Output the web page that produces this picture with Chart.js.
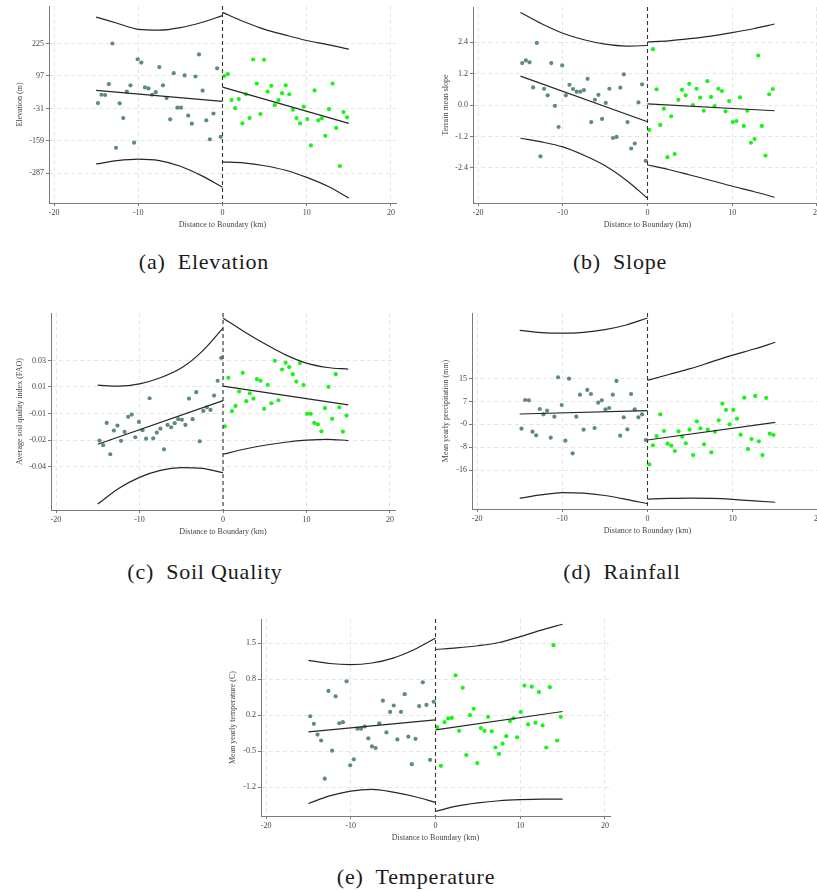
<!doctype html>
<html lang="en">
<head>
<meta charset="UTF-8" />
<title>Boundary discontinuity plots</title>
<script src="https://cdn.jsdelivr.net/npm/chart.js"></script>
<style>
  html, body { margin: 0; padding: 0; background: #fff; }
  body { width: 817px; height: 892px; overflow: hidden; position: relative; }
  canvas { position: absolute; }
  .cap {
    position: absolute; width: 300px; text-align: center;
    font-family: "Liberation Serif", "Times New Roman", serif; font-size: 22px; line-height: 22px;
    letter-spacing: 0.8px; color: #1a1a1a; white-space: nowrap;
  }
  .cap span { display: inline-block; width: 12px; }
</style>
</head>
<body>
<div class="cap" style="left:54px;top:251px">(a)<span></span>Elevation</div>
<div class="cap" style="left:470px;top:251px">(b)<span></span>Slope</div>
<div class="cap" style="left:55px;top:561px">(c)<span></span>Soil Quality</div>
<div class="cap" style="left:472px;top:561px">(d)<span></span>Rainfall</div>
<div class="cap" style="left:266px;top:866px">(e)<span></span>Temperature</div>

<script>
// bins (km from boundary)
const xTicks = [-20, -10, 0, 10, 20];
const binsLeft = [-14.79, -14.36, -13.93, -13.5, -13.07, -12.64, -12.21, -11.79, -11.36, -10.93,
  -10.5, -10.07, -9.64, -9.21, -8.79, -8.36, -7.93, -7.5, -7.07, -6.64, -6.21, -5.79, -5.36,
  -4.93, -4.5, -4.07, -3.64, -3.21, -2.79, -2.36, -1.93, -1.5, -1.07, -0.64, -0.21];
const binsRight = [0.21, 0.64, 1.07, 1.5, 1.93, 2.36, 2.79, 3.21, 3.64, 4.07, 4.5, 4.93, 5.36,
  5.79, 6.21, 6.64, 7.07, 7.5, 7.93, 8.36, 8.79, 9.21, 9.64, 10.07, 10.5, 10.93, 11.36, 11.79,
  12.21, 12.64, 13.07, 13.5, 13.93, 14.36, 14.79];
const fitLeftX = [-15, 0];
const fitRightX = [0, 15];
const ciLeftX = [-15, -12.5, -10, -7.5, -5, -2.5, 0];
const ciRightX = [0, 2.5, 5, 7.5, 10, 12.5, 15];

// (a) elevation
const elevRange = [-404, 373];
const elevTicks = [225, 97, -31, -159, -287];
const elevTickLabels = ["225", "97", "-31", "-159", "-287"];
const elevLeft = [-10, 23, 22, 65, 225, -186, -11, -69, 35, 60, -166, 163, 150, 52, 48, 23, 33,
  132, 60, 10, -74, 108, -28, -28, 99, -59, -91, 95, 182, 39, -78, -153, -51, 127, -143];
const elevRight = [97, 104, 2, -30, 6, -90, 25, -69, 162, 67, -53, 161, 35, 58, -18, 2, 29, 60,
  25, -36, -69, -90, -24, -73, -177, 40, -78, -70, -139, -34, 67, -108, -258, -45, -66];
const elevFitL = [40, -3];
const elevFitR = [53, -90];
const elevUpL = [329, 305, 281, 278, 288, 308, 335];
const elevLoL = [-250, -237, -231, -237, -259, -296, -342];
const elevUpR = [348, 312, 281, 258, 237, 221, 203];
const elevLoR = [-242, -246, -257, -275, -303, -338, -384];

// (b) slope
const slopeRange = [-3.74, 3.74];
const slopeTicks = [2.4, 1.2, 0, -1.2, -2.4];
const slopeTickLabels = ["2.4", "1.2", "0.0", "-1.2", "-2.4"];
const slopeLeft = [1.6, 1.7, 1.63, 0.67, 2.37, -1.96, 0.62, 0.37, 1.6, -0.03, -0.84, 1.51, 0.37,
  0.77, 0.61, 0.51, 0.51, 0.57, 1.0, -0.65, 0.2, 0.39, -0.53, 0.08, 0.62, -1.26, -1.22, 0.66,
  1.17, -0.65, -1.66, -1.47, 0.1, 0.79, -2.13];
const slopeRight = [-0.95, 2.13, 0.6, -0.76, -0.14, -1.99, -0.43, -1.87, 0.2, 0.58, 0.37, 0.81,
  0.0, 0.62, 0.28, -0.22, 0.91, 0.31, -0.04, 0.62, 0.53, -0.24, 0.15, -0.65, -0.61, 0.29, -0.8,
  -0.22, -1.44, -1.3, 1.89, -0.8, -1.93, 0.41, 0.61];
const slopeFitL = [1.1, -0.64];
const slopeFitR = [0.04, -0.22];
const slopeUpL = [3.53, 3.1, 2.74, 2.49, 2.32, 2.25, 2.27];
const slopeLoL = [-1.27, -1.41, -1.6, -1.92, -2.32, -2.87, -3.56];
const slopeUpR = [2.41, 2.45, 2.53, 2.63, 2.76, 2.91, 3.09];
const slopeLoR = [-2.29, -2.46, -2.67, -2.88, -3.1, -3.3, -3.52];

// (c) soil quality
const soilRange = [-0.0688, 0.0574];
const soilTicks = [0.027, 0.010, -0.007, -0.024, -0.041];
const soilTickLabels = ["0.03", "0.01", "-0.01", "-0.02", "-0.04"];
const soilLeft = [-0.0243, -0.0273, -0.013, -0.0331, -0.0179, -0.0147, -0.0245, -0.0188, -0.0091,
  -0.0077, -0.0222, -0.0124, -0.0177, -0.0231, 0.0028, -0.0229, -0.0192, -0.0167, -0.0299,
  -0.0143, -0.0158, -0.0132, -0.0106, -0.011, -0.0143, 0.0026, -0.0106, 0.0067, -0.0248,
  -0.0053, -0.003, -0.0047, 0.0045, 0.014, 0.0287];
const soilRight = [-0.0152, 0.0159, -0.0055, -0.0021, 0.0071, 0.0191, 0.0009, 0.006, 0.0026,
  0.015, 0.014, -0.004, 0.0114, -0.0004, 0.0268, 0.0015, 0.0212, 0.0255, 0.0227, 0.0182, 0.0135,
  0.0253, 0.0112, -0.0072, -0.0072, -0.013, -0.0139, -0.0184, -0.0036, 0.0101, -0.0104, 0.0182,
  -0.003, -0.0186, -0.0083];
const soilFitL = [-0.0267, 0.0013];
const soilFitR = [0.0105, -0.0015];
const soilUpL = [0.0112, 0.0105, 0.012, 0.0159, 0.0221, 0.0328, 0.0477];
const soilLoL = [-0.065, -0.055, -0.0479, -0.0434, -0.0417, -0.0421, -0.0449];
const soilUpR = [0.0542, 0.0456, 0.0377, 0.0306, 0.0253, 0.0225, 0.0214];
const soilLoR = [-0.0331, -0.0299, -0.0273, -0.0254, -0.0241, -0.0235, -0.0243];

// (d) rainfall
const rainRange = [-29.3, 37.6];
const rainTicks = [15.2, 7.4, -0.4, -8.2, -16.0];
const rainTickLabels = ["15", "7", "-0", "-8", "-16"];
const rainLeft = [-1.88, 7.91, 7.8, -2.9, -4.16, 4.84, 3.02, 4.27, -4.95, 2.22, 15.66, 6.2, -5.98,
  15.2, -10.3, 2.22, 9.73, -2.22, 11.33, 9.96, -1.65, 7.0, 7.8, 4.72, 5.18, 9.73, 14.4, -4.27,
  2.0, -2.11, 9.96, 4.72, 2.0, 3.02, -5.75];
const rainRight = [-14.06, -7.57, -4.39, 3.02, -2.68, -7.0, -7.69, -9.51, -2.79, -4.61, -6.89,
  -2.22, -10.88, 0.62, -1.77, -7.23, -2.22, -9.97, -2.9, 0.97, 6.66, 4.5, -0.4, 4.5, 1.54, -3.93,
  8.71, -8.83, -5.41, 9.28, -6.21, -10.88, 8.6, -3.59, -4.04];
const rainFitL = [3.13, 4.27];
const rainFitR = [-5.75, 0.28];
const rainUpL = [31.7, 30.9, 30.7, 31.0, 31.9, 33.5, 35.9];
const rainLoL = [-25.6, -24.5, -23.7, -23.9, -24.7, -26.0, -27.5];
const rainUpR = [14.6, 16.6, 18.6, 20.9, 23.2, 25.3, 27.6];
const rainLoR = [-25.9, -25.7, -25.6, -25.7, -26.0, -26.5, -27.0];

// (e) temperature
const tempRange = [-1.713, 1.947];
const tempTicks = [1.5, 0.83, 0.16, -0.51, -1.18];
const tempTickLabels = ["1.5", "0.8", "0.2", "-0.5", "-1.2"];
const tempLeft = [0.14, 0.0, -0.2, -0.31, -1.02, 0.61, -0.5, 0.51, 0.01, 0.03, 0.79, -0.77, -0.66,
  -0.09, -0.09, -0.05, -0.27, -0.42, -0.45, 0.01, 0.43, -0.16, 0.22, 0.34, -0.29, 0.22, 0.55,
  -0.24, -0.75, -0.28, 0.33, 0.77, 0.35, -0.67, 0.41];
const tempRight = [-0.06, -0.78, 0.03, 0.1, 0.11, 0.9, -0.13, 0.67, -0.58, 0.16, 0.28, -0.73,
  -0.08, -0.13, 0.13, -0.14, -0.44, -0.56, -0.37, -0.23, 0.05, 0.1, -0.25, 0.22, 0.71, -0.01,
  0.69, 0.02, 0.59, -0.03, -0.44, 0.68, 1.46, -0.31, 0.13];
const tempFitL = [-0.15, 0.073];
const tempFitR = [-0.113, 0.228];
const tempUpL = [1.18, 1.12, 1.10, 1.13, 1.22, 1.38, 1.59];
const tempLoL = [-1.48, -1.34, -1.25, -1.22, -1.27, -1.35, -1.46];
const tempUpR = [1.38, 1.41, 1.45, 1.51, 1.62, 1.74, 1.85];
const tempLoR = [-1.63, -1.53, -1.47, -1.43, -1.41, -1.40, -1.40];

const xTitle = "Distance to Boundary (km)";

// plot-area boxes on the page: [left, top, right, bottom]
const panels = [
  { box: [49, 6, 396, 203.3], tOff: 29, title: "Elevation (m)", range: elevRange,
    ticks: elevTicks, labels: elevTickLabels, left: elevLeft, right: elevRight,
    fitL: elevFitL, fitR: elevFitR, upL: elevUpL, loL: elevLoL, upR: elevUpR, loR: elevLoR },
  { box: [473.3, 6.7, 822.7, 203], tOff: 27, title: "Terrain mean slope", range: slopeRange,
    ticks: slopeTicks, labels: slopeTickLabels, left: slopeLeft, right: slopeRight,
    fitL: slopeFitL, fitR: slopeFitR, upL: slopeUpL, loL: slopeLoL, upR: slopeUpR, loR: slopeLoR },
  { box: [51.3, 313.3, 395.3, 510], tOff: 30.6, title: "Average soil quality index (FAO)", range: soilRange,
    ticks: soilTicks, labels: soilTickLabels, left: soilLeft, right: soilRight,
    fitL: soilFitL, fitR: soilFitR, upL: soilUpL, loL: soilLoL, upR: soilUpR, loR: soilLoR },
  { box: [471.7, 313.3, 822.3, 509.3], tOff: 26.4, title: "Mean yearly precipitation (mm)", range: rainRange,
    ticks: rainTicks, labels: rainTickLabels, left: rainLeft, right: rainRight,
    fitL: rainFitL, fitR: rainFitR, upL: rainUpL, loL: rainLoL, upR: rainUpR, loR: rainLoR },
  { box: [260.7, 619.3, 609.9, 816], tOff: 28, title: "Mean yearly temperature (C)", range: tempRange,
    ticks: tempTicks, labels: tempTickLabels, left: tempLeft, right: tempRight,
    fitL: tempFitL, fitR: tempFitR, upL: tempUpL, loL: tempLoL, upR: tempUpR, loR: tempLoR }
];

const FONT = { family: "'Liberation Serif', 'Times New Roman', serif", size: 8, lineHeight: 1.2 };
const TXT = "#444";
const AXIS = "#7a7a7a";

// dashed boundary line at x = 0
const zeroLine = {
  id: "zeroLine",
  afterDatasetsDraw(chart) {
    const { ctx, chartArea, scales } = chart;
    const px = scales.x.getPixelForValue(0);
    ctx.save();
    ctx.strokeStyle = "#333";
    ctx.lineWidth = 1.1;
    ctx.setLineDash([4, 3]);
    ctx.beginPath();
    ctx.moveTo(px, chartArea.top);
    ctx.lineTo(px, chartArea.bottom);
    ctx.stroke();
    ctx.restore();
  }
};

function pts(xs, ys) {
  return xs.map((x, i) => ({ x: x, y: ys[i] }));
}

function lineSet(xs, ys, curved) {
  return {
    data: pts(xs, ys), showLine: true, borderColor: "#262626", borderWidth: 1.2,
    pointRadius: 0, fill: false, cubicInterpolationMode: curved ? "monotone" : "default"
  };
}

function dotSet(xs, ys, color) {
  return { data: pts(xs, ys), backgroundColor: color, borderWidth: 0, pointRadius: 2.1 };
}

panels.forEach((p) => {
  const [L, T, R, B] = p.box;
  const cv = document.createElement("canvas");
  cv.width = Math.round(R - L + 80);
  cv.height = Math.round(B - T + 45);
  cv.style.left = (L - 60) + "px";
  cv.style.top = (T - 10) + "px";
  document.body.appendChild(cv);

  new Chart(cv.getContext("2d"), {
    type: "scatter",
    data: {
      datasets: [
        lineSet(fitLeftX, p.fitL, false),
        lineSet(fitRightX, p.fitR, false),
        lineSet(ciLeftX, p.upL, true),
        lineSet(ciLeftX, p.loL, true),
        lineSet(ciRightX, p.upR, true),
        lineSet(ciRightX, p.loR, true),
        dotSet(binsLeft, p.left, "#5f8a7f"),
        dotSet(binsRight, p.right, "#18f418")
      ]
    },
    options: {
      responsive: false,
      animation: false,
      layout: { padding: { top: 10, right: 20, left: 0, bottom: 0 } },
      plugins: { legend: { display: false }, tooltip: { enabled: false } },
      scales: {
        x: {
          type: "linear", min: -20.6, max: 20.6,
          afterBuildTicks: (s) => { s.ticks = xTicks.map((v) => ({ value: v })); },
          afterFit: (s) => { s.height = 35; },
          ticks: { font: FONT, color: TXT, padding: 2, maxRotation: 0, autoSkip: false },
          grid: { color: "#e6e6e6", lineWidth: 1, tickColor: AXIS, tickLength: 3, tickBorderDash: [] },
          border: { color: AXIS, width: 1, dash: [4, 3] },
          title: { display: true, text: xTitle, font: FONT, color: TXT, padding: { top: 0, bottom: 8.7 } }
        },
        y: {
          type: "linear", position: "left", min: p.range[0], max: p.range[1],
          afterBuildTicks: (s) => { s.ticks = p.ticks.map((v) => ({ value: v })); },
          afterFit: (s) => { s.width = 60; },
          ticks: { font: FONT, color: TXT, padding: 2, autoSkip: false, callback: (v, i) => p.labels[i] },
          grid: { color: "#e6e6e6", lineWidth: 1, tickColor: AXIS, tickLength: 3, tickBorderDash: [] },
          border: { color: AXIS, width: 1, dash: [4, 3] },
          title: { display: true, text: p.title, font: FONT, color: TXT, padding: { top: 55.2 - p.tOff, bottom: 0 } }
        }
      }
    },
    plugins: [zeroLine]
  });
});
</script>
</body>
</html>
